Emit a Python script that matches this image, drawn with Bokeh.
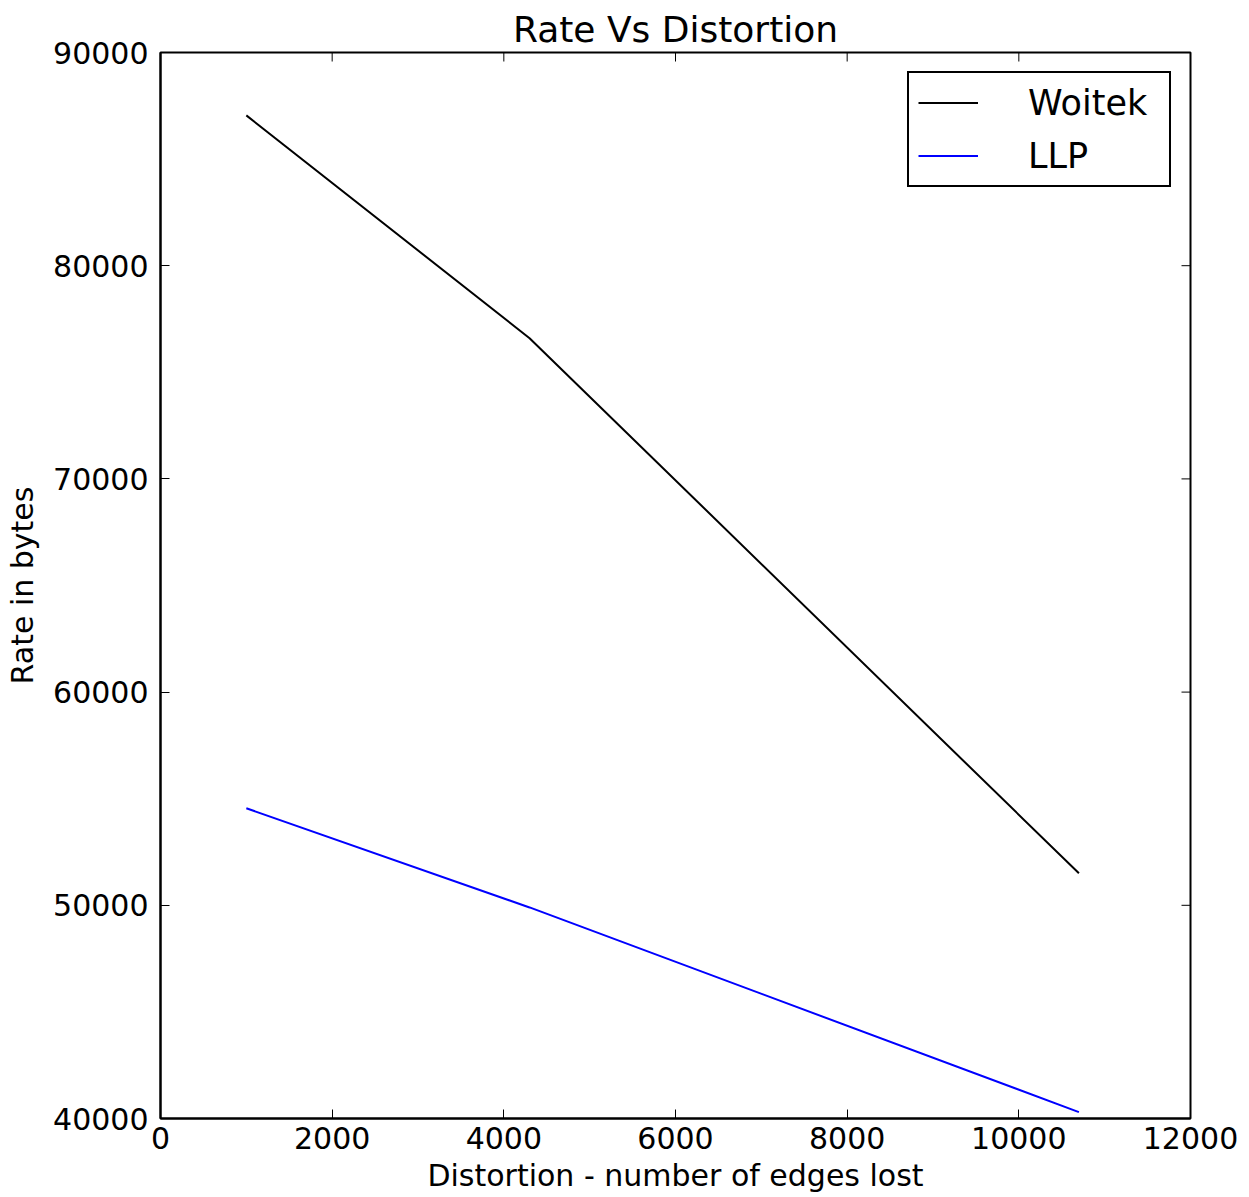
from bokeh.plotting import figure
from bokeh.models import (ColumnDataSource, FixedTicker, Legend, LegendItem,
                          Range1d)
from bokeh.embed import file_html
from bokeh.resources import INLINE

# Rate vs distortion measurements
distortion = [1000, 4300, 10700]
woitek_rate = [87050, 76600, 51500]
llp_rate = [54550, 49900, 40300]

x_ticks = [0, 2000, 4000, 6000, 8000, 10000, 12000]
y_ticks = [40000, 50000, 60000, 70000, 80000, 90000]

FONT = "DejaVu Sans"
X0, X1 = 0, 12000
Y0, Y1 = 40000, 90000
FRAME_W, FRAME_H = 1030, 1066   # plot frame size in pixels
TICK_PX = 9                     # inward tick length

src = ColumnDataSource(dict(x=distortion, woitek=woitek_rate, llp=llp_rate))

p = figure(width=1249, height=1197, output_backend="svg", toolbar_location=None,
           x_range=Range1d(X0, X1), y_range=Range1d(Y0, Y1),
           min_border_left=160, min_border_right=59, min_border_top=52,
           min_border_bottom=79, title="Rate Vs Distortion")

p.title.align = "center"
p.title.text_font = FONT
p.title.text_font_size = "36px"
p.title.text_font_style = "normal"
p.title.text_color = "black"
p.title.standoff = 6

p.grid.visible = False
p.background_fill_color = "white"
p.border_fill_color = "white"
p.outline_line_color = "black"
p.outline_line_width = 2
p.outline_line_alpha = 1

r1 = p.line("x", "woitek", source=src, line_color="black", line_width=2)
r2 = p.line("x", "llp", source=src, line_color="#0000ff", line_width=2)

# inward ticks along the top and right edges of the frame
dx = (X1 - X0) / FRAME_W * TICK_PX
dy = (Y1 - Y0) / FRAME_H * TICK_PX
p.segment(x0=x_ticks, x1=x_ticks, y0=[Y1] * len(x_ticks),
          y1=[Y1 - dy] * len(x_ticks), line_color="black", line_width=1)
p.segment(x0=[X1] * len(y_ticks), x1=[X1 - dx] * len(y_ticks),
          y0=y_ticks, y1=y_ticks, line_color="black", line_width=1)

p.xaxis.ticker = FixedTicker(ticks=x_ticks)
p.yaxis.ticker = FixedTicker(ticks=y_ticks)

for ax in p.axis:
    ax.axis_line_color = "black"
    ax.axis_line_width = 2
    ax.major_tick_in = TICK_PX
    ax.major_tick_out = 0
    ax.major_tick_line_color = "black"
    ax.major_tick_line_width = 1
    ax.minor_tick_line_color = None
    ax.major_label_text_font = FONT
    ax.major_label_text_font_size = "30px"
    ax.major_label_text_color = "black"
    ax.axis_label_text_font = FONT
    ax.axis_label_text_font_size = "30px"
    ax.axis_label_text_font_style = "normal"
    ax.axis_label_text_color = "black"

p.xaxis.axis_label = "Distortion - number of edges lost"
p.xaxis.major_label_standoff = 8
p.xaxis.axis_label_standoff = 6
p.yaxis.axis_label = "Rate in bytes"
p.yaxis.major_label_standoff = 12
p.yaxis.axis_label_standoff = 10

legend = Legend(items=[LegendItem(label="Woitek", renderers=[r1]),
                       LegendItem(label="LLP", renderers=[r2])],
                location="top_right")
legend.margin = 19
legend.padding = 9
legend.spacing = 12
legend.glyph_width = 60
legend.glyph_height = 41
legend.label_height = 41
legend.label_width = 132
legend.label_standoff = 50
legend.label_text_font = FONT
legend.label_text_font_size = "35px"
legend.label_text_color = "black"
legend.border_line_color = "black"
legend.border_line_width = 2
legend.border_line_alpha = 1
legend.background_fill_color = "white"
legend.background_fill_alpha = 1
p.add_layout(legend, "center")

open("out.html", "w").write(file_html(p, INLINE))
